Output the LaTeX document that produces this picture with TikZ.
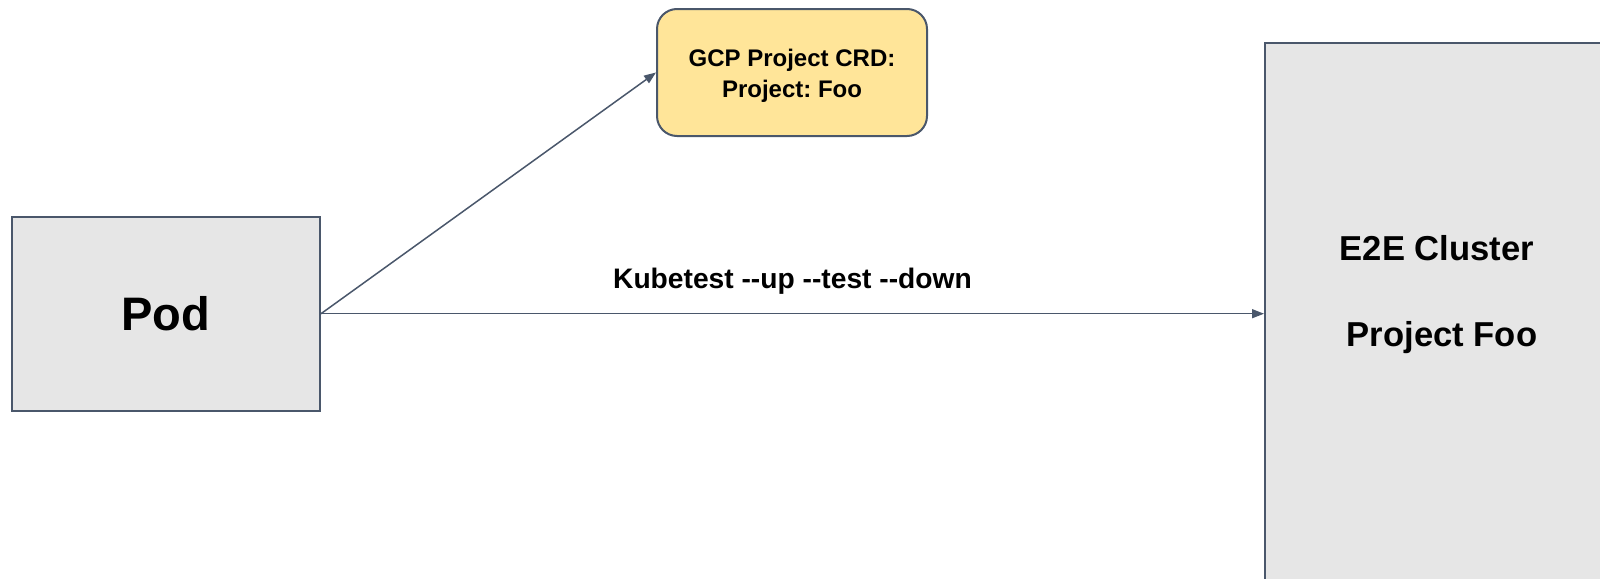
\documentclass[tikz,border=0pt]{standalone}
\usepackage{fontspec}
\setmainfont{Liberation Sans}[Ligatures=TeXOff]
\usepackage{xcolor}
\usepackage{tikz}
\usetikzlibrary{arrows.meta}

\definecolor{slateline}{RGB}{74,87,107}
\definecolor{boxgray}{RGB}{230,230,230}
\definecolor{crdyellow}{RGB}{255,229,153}
\frenchspacing

\begin{document}
\begin{tikzpicture}[x=0.5pt, y=-0.5pt,
    graybox/.style={draw=slateline, line width=1pt, fill=boxgray, inner sep=0pt},
    crdbox/.style={draw=slateline, line width=1pt, fill=crdyellow, rounded corners=10pt,
        inner sep=0pt, align=center, font=\bfseries\fontsize{12}{15.3}\selectfont},
    flow/.style={draw=slateline, line width=0.75pt, -{Triangle[length=6pt, width=4.5pt]}}]
    % Page frame
    \useasboundingbox (0,0) rectangle (1600,578);
    \clip (0,0) rectangle (1600,578);

    % Place boxes
    \node[graybox, minimum width=154pt, minimum height=97pt,
        font=\bfseries\fontsize{23.5}{28}\selectfont] (pod) at (166,313.7) {Pod};
    \node[crdbox, minimum width=135pt, minimum height=63.5pt] (crd) at (792,72.5)
        {\rule{0pt}{11.8pt}GCP Project CRD:\\Project: Foo};
    \node[graybox, minimum width=187.5pt, minimum height=288.5pt] (cluster) at (1452.5,331.5) {};

    % Cluster texts
    \node[anchor=base, font=\bfseries\fontsize{17.3}{20}\selectfont] (e2e) at (1437,260) {E2E Cluster};
    \node[anchor=base, font=\bfseries\fontsize{17.3}{20}\selectfont] (projfoo) at (1442,346) {Project Foo};

    % Draw arrows
    \draw[flow] (pod.east) -- (crd.west);
    \draw[flow] (pod.east) -- (pod.east -| cluster.west)
        node[midway, above=9.5pt, inner sep=0pt, font=\bfseries\fontsize{14.1}{17}\selectfont] (kube)
        {Kubetest --up --test --down};
\end{tikzpicture}
\end{document}
